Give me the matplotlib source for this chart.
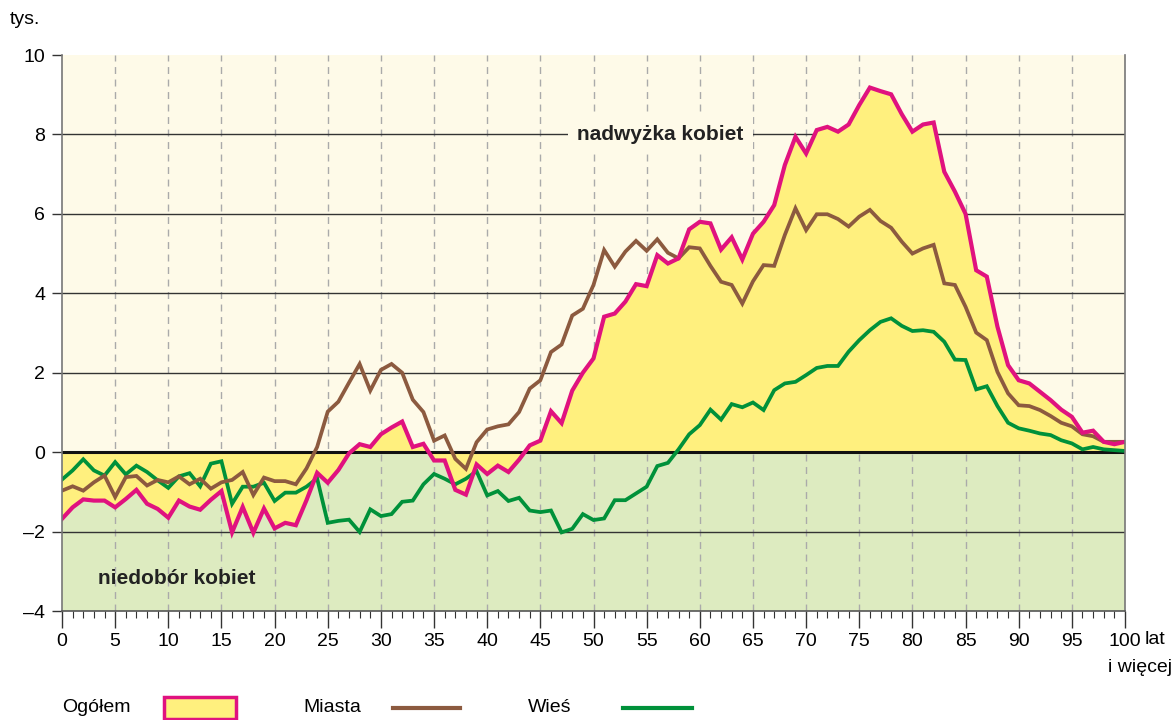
import matplotlib
matplotlib.use("Agg")
import matplotlib.pyplot as plt
from matplotlib.patches import Rectangle
from matplotlib.lines import Line2D
import numpy as np

plt.rcParams['font.family'] = ['Liberation Sans', 'DejaVu Sans']

ages = list(range(0, 101))

ogolem = [-1.68, -1.39, -1.19, -1.22, -1.22, -1.39, -1.18, -0.95, -1.30, -1.43,
          -1.65, -1.22, -1.37, -1.45, -1.20, -0.98, -2.02, -1.38, -2.03, -1.42,
          -1.92, -1.78, -1.84, -1.21, -0.52, -0.77, -0.45, -0.03, 0.20, 0.13,
          0.45, 0.62, 0.77, 0.13, 0.21, -0.21, -0.21, -0.95, -1.07, -0.31,
          -0.55, -0.34, -0.50, -0.19, 0.17, 0.29, 1.03, 0.73, 1.55, 2.00,
          2.36, 3.41, 3.49, 3.79, 4.23, 4.18, 4.96, 4.75, 4.88, 5.61,
          5.80, 5.76, 5.10, 5.41, 4.85, 5.50, 5.80, 6.22, 7.23, 7.94,
          7.52, 8.11, 8.19, 8.07, 8.25, 8.74, 9.18, 9.09, 9.01, 8.51,
          8.07, 8.25, 8.30, 7.06, 6.56, 6.00, 4.58, 4.42, 3.16, 2.19,
          1.81, 1.73, 1.52, 1.31, 1.07, 0.89, 0.49, 0.54, 0.26, 0.20, 0.26]

miasta = [-0.97, -0.86, -0.97, -0.76, -0.59, -1.13, -0.63, -0.60, -0.84, -0.70,
          -0.76, -0.61, -0.81, -0.67, -0.92, -0.76, -0.70, -0.50, -1.08, -0.64,
          -0.73, -0.73, -0.81, -0.41, 0.13, 1.02, 1.27, 1.75, 2.22, 1.55,
          2.07, 2.22, 2.00, 1.32, 1.01, 0.29, 0.42, -0.17, -0.42, 0.25,
          0.57, 0.65, 0.70, 1.01, 1.60, 1.81, 2.52, 2.71, 3.44, 3.61,
          4.21, 5.09, 4.67, 5.05, 5.32, 5.07, 5.36, 5.02, 4.88, 5.16,
          5.13, 4.69, 4.29, 4.21, 3.74, 4.30, 4.71, 4.69, 5.47, 6.14,
          5.59, 5.99, 5.99, 5.87, 5.68, 5.93, 6.10, 5.82, 5.65, 5.30,
          5.00, 5.13, 5.22, 4.25, 4.21, 3.66, 3.01, 2.82, 2.02, 1.48,
          1.18, 1.16, 1.06, 0.91, 0.74, 0.65, 0.45, 0.40, 0.26, 0.26, 0.26]

wies = [-0.69, -0.46, -0.18, -0.46, -0.59, -0.25, -0.56, -0.34, -0.50, -0.71,
        -0.90, -0.61, -0.53, -0.86, -0.29, -0.23, -1.30, -0.87, -0.87, -0.77,
        -1.23, -1.02, -1.02, -0.87, -0.66, -1.78, -1.73, -1.70, -2.01, -1.44,
        -1.61, -1.56, -1.25, -1.22, -0.81, -0.55, -0.67, -0.81, -0.67, -0.48,
        -1.09, -0.98, -1.23, -1.15, -1.47, -1.51, -1.47, -2.02, -1.93, -1.56,
        -1.71, -1.67, -1.21, -1.21, -1.04, -0.87, -0.35, -0.27, 0.07, 0.45,
        0.68, 1.07, 0.82, 1.21, 1.13, 1.25, 1.06, 1.56, 1.73, 1.77,
        1.94, 2.12, 2.17, 2.17, 2.53, 2.82, 3.07, 3.28, 3.37, 3.18,
        3.05, 3.07, 3.03, 2.78, 2.33, 2.32, 1.58, 1.66, 1.16, 0.74,
        0.60, 0.54, 0.47, 0.43, 0.30, 0.22, 0.07, 0.13, 0.07, 0.05, 0.03]

y_ticks = [-4, -2, 0, 2, 4, 6, 8, 10]
y_ticklabels = ['–4', '–2', '0', '2', '4', '6', '8', '10']
x_major = list(range(0, 101, 5))
x_ticklabels = [str(v) for v in x_major]

C_CREAM = '#FEFAE8'
C_GREENBG = '#DDEBC0'
C_YELLOW = '#FFF07E'
C_MAGENTA = '#E0127F'
C_BROWN = '#8C5A3F'
C_GREEN = '#00913A'

FS = 14

fig = plt.figure(figsize=(11.73, 7.2), dpi=100)
W, H = 1173, 720
ax = fig.add_axes([62 / W, 1 - 611 / H, (1125 - 62) / W, (611 - 55) / H])
ax.set_xlim(0, 100)
ax.set_ylim(-4, 10)

ax.axhspan(0, 10, color=C_CREAM, zorder=0, lw=0)
ax.axhspan(-4, 0, color=C_GREENBG, zorder=0, lw=0)

for xv in x_major[1:-1]:
    ax.axvline(xv, color='#AAAAAA', lw=1.0, ls=(0, (5, 4)), zorder=1)
for yv in [2, 4, 6, 8, -2]:
    ax.axhline(yv, color='#333333', lw=1.0, zorder=1)

ax.fill_between(ages, 0, ogolem, color=C_YELLOW, lw=0, zorder=2)
ax.axhline(0, color='#111111', lw=2.2, zorder=2.5)

ax.plot(ages, wies, color=C_GREEN, lw=2.7, zorder=3, solid_joinstyle='miter')
ax.plot(ages, miasta, color=C_BROWN, lw=2.7, zorder=3.1, solid_joinstyle='miter')
ax.plot(ages, ogolem, color=C_MAGENTA, lw=3.0, zorder=3.2, solid_joinstyle='miter')

ax.text(56.3, 8, 'nadwyżka kobiet', ha='center', va='center', fontsize=15,
        fontweight='bold', color='#222222', zorder=4,
        bbox=dict(boxstyle='square,pad=0.45', fc=C_CREAM, ec='none'))
ax.text(10.8, -3.17, 'niedobór kobiet', ha='center', va='center', fontsize=15,
        fontweight='bold', color='#222222', zorder=4)

ax.spines['top'].set_visible(False)
ax.spines['left'].set_color('#777777')
ax.spines['right'].set_color('#777777')
ax.spines['bottom'].set_color('#555555')
ax.spines['left'].set_linewidth(1.2)
ax.spines['right'].set_linewidth(1.2)
ax.spines['bottom'].set_linewidth(1.2)
for s in ax.spines.values():
    s.set_zorder(5)

ax.set_yticks(y_ticks)
ax.set_yticklabels(y_ticklabels, fontsize=FS)
ax.set_xticks(x_major)
ax.set_xticklabels(x_ticklabels, fontsize=FS)
ax.set_xticks(ages, minor=True)
ax.tick_params(axis='x', which='major', length=12, width=1, direction='out', pad=4, color='#333333')
ax.tick_params(axis='x', which='minor', length=5, width=0.8, direction='out', color='#333333')
ax.tick_params(axis='y', which='major', length=7, width=1, direction='out', pad=5, color='#333333')

fig.text(10 / W, 1 - 20 / H, 'tys.', fontsize=FS, ha='left', va='center')
fig.text(1145 / W, 1 - 640 / H, 'lat', fontsize=FS, ha='left', va='center')
fig.text(1172 / W, 1 - 668 / H, 'i więcej', fontsize=FS, ha='right', va='center')

# legend
ly = 1 - 708 / H
fig.text(62 / W, ly, 'Ogółem', fontsize=FS, ha='left', va='center')
fig.patches.append(Rectangle((164 / W, 1 - 719 / H), 72 / W, 22 / H, transform=fig.transFigure,
                             fc=C_YELLOW, ec=C_MAGENTA, lw=2.5))
fig.text(303 / W, ly, 'Miasta', fontsize=FS, ha='left', va='center')
fig.lines.append(Line2D([393 / W, 460 / W], [ly, ly], transform=fig.transFigure,
                        color=C_BROWN, lw=3))
fig.text(528 / W, ly, 'Wieś', fontsize=FS, ha='left', va='center')
fig.lines.append(Line2D([623 / W, 692 / W], [ly, ly], transform=fig.transFigure,
                        color=C_GREEN, lw=3))

fig.savefig('out.png', dpi=100)
